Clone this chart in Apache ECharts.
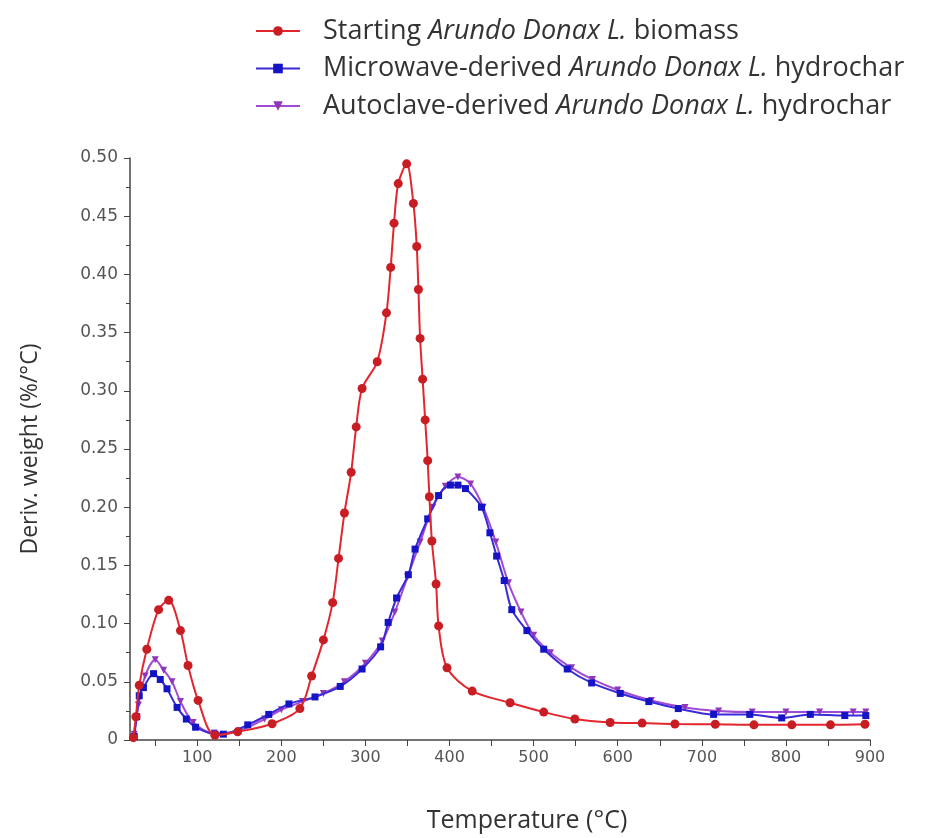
<!DOCTYPE html>
<html>
<head>
<meta charset="utf-8">
<script src="https://cdn.jsdelivr.net/npm/echarts@6/dist/echarts.min.js"></script>
<style>html,body{margin:0;padding:0;background:#fff}#c{width:928px;height:838px}</style>
</head>
<body>
<div id="c"></div>
<script>
// Starting Arundo Donax L. biomass  [Temperature °C, deriv. weight %/°C]
const biomass = [
  [24,0.002],[27,0.02],[31,0.047],[40,0.078],[54,0.112],[66,0.12],[80,0.094],[89,0.064],[101,0.034],
  [121,0.004],[148,0.007],[189,0.014],[222,0.027],[236,0.055],[250,0.086],[261,0.118],[268,0.156],
  [275,0.195],[283,0.230],[289,0.269],[296,0.302],[314,0.325],[325,0.367],[330,0.406],[334,0.444],
  [339,0.478],[349,0.495],[357,0.461],[361,0.424],[363,0.387],[365,0.345],[368,0.310],[371,0.275],
  [374,0.240],[376,0.209],[379,0.171],[384,0.134],[387,0.098],[397,0.062],[427,0.042],[472,0.032],
  [512,0.024],[549,0.018],[591,0.015],[629,0.0145],[668,0.0137],[716,0.0135],[762,0.013],[807,0.013],
  [853,0.013],[894,0.0135]
];
// Microwave-derived hydrochar
const microwave = [
  [25,0.003],[28,0.02],[31,0.038],[36,0.045],[48,0.057],[56,0.052],[64,0.044],[76,0.028],[87,0.018],
  [98,0.011],[121,0.005],[131,0.005],[160,0.013],[185,0.022],[209,0.031],[240,0.037],[270,0.046],
  [296,0.061],[318,0.080],[327,0.101],[337,0.122],[351,0.142],[359,0.164],[374,0.190],[387,0.210],
  [401,0.219],[410,0.219],[419,0.216],[438,0.200],[448,0.178],[456,0.158],[465,0.137],[474,0.112],
  [492,0.094],[512,0.078],[540,0.061],[569,0.049],[603,0.040],[637,0.033],[672,0.027],[714,0.022],
  [757,0.022],[795,0.019],[829,0.022],[870,0.021],[895,0.021]
];
// Autoclave-derived hydrochar
const autoclave = [
  [25,0.005],[30,0.03],[38,0.055],[50,0.069],[60,0.06],[70,0.05],[80,0.033],[95,0.015],[120,0.006],
  [150,0.008],[180,0.018],[200,0.026],[225,0.033],[250,0.040],[275,0.050],[300,0.066],[320,0.085],
  [335,0.110],[350,0.140],[365,0.170],[380,0.200],[395,0.218],[410,0.226],[425,0.220],[440,0.200],
  [455,0.170],[470,0.135],[485,0.110],[500,0.090],[520,0.075],[545,0.062],[570,0.052],[600,0.043],
  [640,0.034],[680,0.028],[720,0.025],[760,0.024],[800,0.024],[840,0.024],[880,0.024],[895,0.024]
];
const xLabels = [100,200,300,400,500,600,700,800,900];
const xTicks = [50,100,150,200,250,300,350,400,450,500,550,600,650,700,750,800,850,900];

const chart = echarts.init(document.getElementById('c'), null, {renderer:'canvas'});
const rich = {
  n:{fontFamily:'Open Sans',fontSize:27,lineHeight:30,color:'#333'},
  i:{fontFamily:'Open Sans',fontSize:27,lineHeight:30,color:'#333',fontStyle:'italic'}
};
const names = {
  'Starting Arundo Donax L. biomass':'{n|Starting }{i|Arundo Donax L.}{n| biomass}',
  'Microwave-derived Arundo Donax L. hydrochar':'{n|Microwave-derived }{i|Arundo Donax L.}{n| hydrochar}',
  'Autoclave-derived Arundo Donax L. hydrochar':'{n|Autoclave-derived }{i|Arundo Donax L.}{n| hydrochar}'
};
chart.setOption({
  animation:false,
  backgroundColor:'#fff',
  legend:{
    orient:'vertical', left:250, top:11, itemWidth:44, itemHeight:12, itemGap:7.5,
    formatter:function(n){return names[n];},
    textStyle:{rich:rich, fontSize:27, lineHeight:30, padding:[0,0,0,18]}
  },
  grid:{left:130, right:58, top:158, bottom:97},
  xAxis:{
    type:'value', min:20, max:900,
    name:'Temperature (°C)', nameLocation:'middle', nameGap:68,
    nameTextStyle:{fontFamily:'Open Sans',fontSize:25,color:'#333',padding:[0,0,0,54]},
    axisLine:{lineStyle:{color:'#444',width:1.5}},
    axisTick:{customValues:xTicks, length:6, lineStyle:{color:'#444'}},
    axisLabel:{customValues:xLabels, fontFamily:'DejaVu Sans', fontSize:16, color:'#555', margin:10},
    splitLine:{show:false}
  },
  yAxis:{
    type:'value', min:0, max:0.5, interval:0.05,
    name:'Deriv. weight (%/°C)', nameLocation:'middle', nameGap:88,
    nameTextStyle:{fontFamily:'Open Sans',fontSize:23,color:'#333'},
    axisLine:{show:true, lineStyle:{color:'#444',width:1.5}},
    axisTick:{show:true, length:6, lineStyle:{color:'#444'}},
    minorTick:{show:true, splitNumber:2, length:4, lineStyle:{color:'#444'}},
    axisLabel:{fontFamily:'DejaVu Sans', fontSize:17, color:'#555', margin:12,
      formatter:function(v){return v===0?'0':v.toFixed(2);}},
    splitLine:{show:false}
  },
  series:[
    {name:'Starting Arundo Donax L. biomass', type:'line', data:biomass, smooth:0.3,
     symbol:'circle', symbolSize:9, z:3,
     lineStyle:{color:'#e3262e', width:2}, itemStyle:{color:'#c81d22'}},
    {name:'Microwave-derived Arundo Donax L. hydrochar', type:'line', data:microwave, smooth:0.3,
     symbol:'rect', symbolSize:7, z:2,
     lineStyle:{color:'#3a2ad8', width:2}, itemStyle:{color:'#1414c4'}},
    {name:'Autoclave-derived Arundo Donax L. hydrochar', type:'line', data:autoclave, smooth:0.3,
     symbol:'triangle', symbolRotate:180, symbolSize:7, z:1,
     lineStyle:{color:'#a24ad6', width:2}, itemStyle:{color:'#9036b8'}}
  ]
});
</script>
</body>
</html>
